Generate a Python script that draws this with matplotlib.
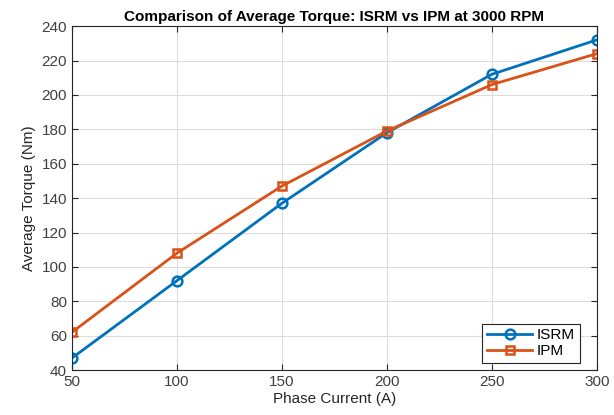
import numpy as np
import matplotlib.pyplot as plt

# phase current sweep at 3000 rpm
current = [50, 100, 150, 200, 250, 300]
torque_isrm = [47, 92, 137, 178, 212, 232]
torque_ipm = [62, 108, 147, 179, 206, 224]

plt.rcParams['font.family'] = ['Liberation Sans', 'DejaVu Sans']

fig = plt.figure(figsize=(6.14, 4.15), dpi=100)
ax = fig.add_axes([0.117, 0.108, 0.855, 0.829])

ax.plot(current, torque_isrm, '-o', color='#0072BD', lw=2, ms=7,
        mfc='none', mew=1.8, label='ISRM')
ax.plot(current, torque_ipm, '-s', color='#D95319', lw=2, ms=6,
        mfc='none', mew=1.8, label='IPM')

ax.set_xlim(50, 300)
ax.set_ylim(40, 240)
ax.set_xticks(np.arange(50, 301, 50))
ax.set_yticks(np.arange(40, 241, 20))
ax.grid(True, color='#dcdcdc', lw=0.8)
ax.tick_params(direction='in', length=4, labelsize=11, colors='#262626',
               top=True, right=True, labelcolor='#404040')
for s in ax.spines.values():
    s.set_color('#262626')
    s.set_linewidth(0.8)

ax.set_title('Comparison of Average Torque: ISRM vs IPM at 3000 RPM',
             fontsize=11, fontweight='bold', pad=4)
ax.set_xlabel('Phase Current (A)', fontsize=11, color='#262626', labelpad=2)
ax.set_ylabel('Average Torque (Nm)', fontsize=11, color='#262626')
leg = ax.legend(loc='lower right', bbox_to_anchor=(0.982, 0.0), fontsize=11,
                fancybox=False, framealpha=1, edgecolor='#262626',
                handlelength=3, borderpad=0.3, labelspacing=0.1,
                handletextpad=0.3)
leg.get_frame().set_linewidth(0.8)

fig.savefig('out.png', dpi=100)
